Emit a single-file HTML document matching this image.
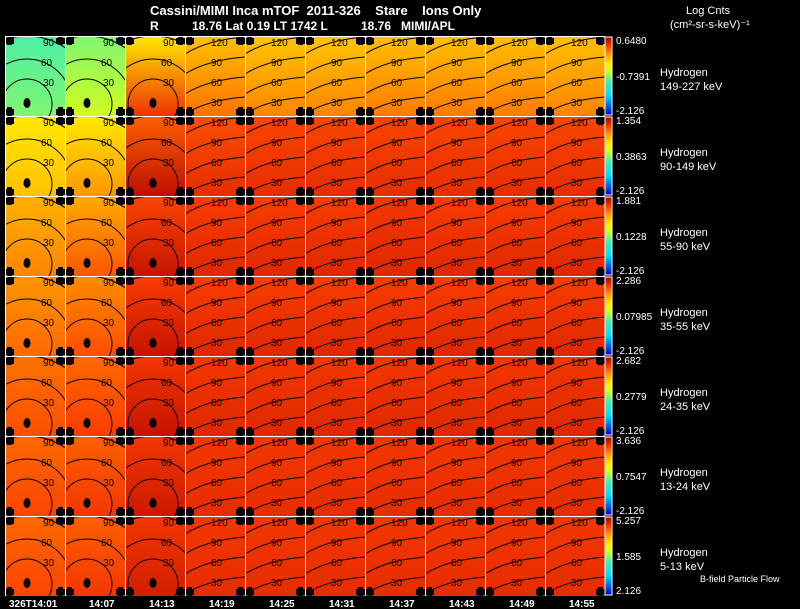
<!DOCTYPE html>
<html><head><meta charset="utf-8"><style>
html,body{margin:0;padding:0;background:#000;width:800px;height:609px;overflow:hidden}
svg{display:block}
text{font-family:"Liberation Sans",sans-serif;fill:#fff;white-space:pre}
.c{fill:#000;font-size:10px}
</style></head><body>
<svg id="chart" width="800" height="609" viewBox="0 0 800 609">
<text x="150" y="15" font-size="13" font-weight="bold">Cassini/MIMI Inca mTOF  2011-326    Stare    Ions Only</text>
<text x="150" y="30" font-size="12" font-weight="bold">R          18.76 Lat 0.19 LT 1742 L          18.76   MIMI/APL</text>
<text x="686" y="14" font-size="11">Log Cnts</text>
<text x="670" y="28" font-size="11">(cm²-sr-s-keV)⁻¹</text>
<text x="700" y="582" font-size="9">B-field Particle Flow</text>
<g id="panels"></g>
</svg>
<script>
const times=["326T14:01","14:07","14:13","14:19","14:25","14:31","14:37","14:43","14:49","14:55"];
const species=["149-227 keV","90-149 keV","55-90 keV","35-55 keV","24-35 keV","13-24 keV","5-13 keV"];
const cbMax=["0.6480","1.354","1.881","2.286","2.682","3.636","5.257"];
const cbMid=["-0.7391","0.3863","0.1228","0.07985","0.2779","0.7547","1.585"];
const cbMin=["-2.126","-2.126","-2.126","-2.126","-2.126","-2.126","2.126"];
const topVals=[
[.44,.49,.66,.72,.71,.71,.72,.72,.72,.72],
[.66,.66,.84,.86,.87,.87,.87,.87,.87,.87],
[.74,.75,.87,.88,.88,.88,.89,.88,.88,.88],
[.78,.79,.88,.88,.88,.88,.88,.88,.88,.88],
[.82,.83,.89,.89,.89,.89,.89,.89,.89,.89],
[.83,.84,.89,.89,.89,.89,.89,.89,.89,.89],
[.83,.84,.89,.89,.89,.89,.89,.89,.89,.89]];
const botVals=[
[.49,.57,.9,.82,.8,.8,.81,.81,.81,.8],
[.72,.78,.97,.91,.91,.91,.91,.91,.91,.91],
[.8,.85,.96,.92,.92,.92,.92,.92,.92,.92],
[.83,.86,.96,.92,.92,.92,.92,.92,.92,.92],
[.86,.88,.96,.92,.92,.92,.92,.92,.92,.92],
[.87,.89,.95,.91,.91,.91,.91,.91,.91,.91],
[.87,.89,.94,.91,.91,.91,.91,.91,.91,.91]];
const X0=5,PW=60,Y0=36,PH=80,NS="http://www.w3.org/2000/svg";
const xPos=c=>X0+c*PW, yPos=r=>Y0+r*PH;
const stops=[[0,[0,0,200]],[.25,[0,220,255]],[.45,[80,240,160]],[.55,[200,255,40]],[.65,[255,240,0]],[.78,[255,150,0]],[.88,[250,60,0]],[1,[170,0,0]]];
function cmap(v){for(let i=1;i<stops.length;i++){if(v<=stops[i][0]){const a=stops[i-1],b=stops[i],t=(v-a[0])/(b[0]-a[0]);return `rgb(${a[1].map((x,k)=>Math.round(x+(b[1][k]-x)*t)).join(',')})`;}}return 'rgb(170,0,0)';}
const g=document.getElementById('panels');
function el(t,a,p){const e=document.createElementNS(NS,t);for(const k in a)e.setAttribute(k,a[k]);(p||g).appendChild(e);return e;}
const defs=el('defs',{});
const cbg=el('linearGradient',{id:'cbgrad',x1:0,y1:1,x2:0,y2:0},defs);
stops.forEach(s=>el('stop',{offset:s[0],'stop-color':cmap(s[0])},cbg));
for(let r=0;r<7;r++){
 for(let c=0;c<10;c++){
  const x=xPos(c),y=yPos(r),id='g'+r+'_'+c;
  const lg=el('linearGradient',{id:id,x1:0,y1:0,x2:0,y2:1},defs);
  el('stop',{offset:0,'stop-color':cmap(topVals[r][c])},lg);
  el('stop',{offset:1,'stop-color':cmap(botVals[r][c])},lg);
  const cp=el('clipPath',{id:'cp'+id},defs);el('rect',{x:x,y:y,width:PW,height:PH},cp);
  const pg=el('g',{'clip-path':'url(#cp'+id+')'});
  
  
  el('rect',{x:x,y:y,width:PW,height:PH,fill:'url(#'+id+')'},pg);
  if(c<3){
   const cx=x+(c==2?28:22),cy=y+68;
   [25,45,68].forEach(R=>el('circle',{cx:cx,cy:cy,r:R,fill:'none',stroke:'#000','stroke-width':1},pg));
   el('ellipse',{cx:cx,cy:cy-1,rx:3.5,ry:5,fill:'#000'},pg);
   [['30',38,50],['60',36,30],['90',38,10]].forEach(l=>{const t=el('text',{x:x+l[1],y:y+l[2],class:'c'},pg);t.textContent=l[0];});
  }else{
   [[2,'120'],[22,'90'],[42,'60'],[62,'30']].forEach(l=>{
    el('path',{d:`M${x},${y+l[0]+16} Q${x+22},${y+l[0]+2} ${x+60},${y+l[0]-1}`,fill:'none',stroke:'#000'},pg);
    const t=el('text',{x:x+26,y:y+l[0]+8,class:'c'},pg);t.textContent=l[1];});
  }
  [[0,0],[PW-9,0],[0,PH-9],[PW-9,PH-9]].forEach(o=>{el('rect',{x:x+o[0],y:y+o[1]+2,width:9,height:6,fill:'#000'},pg);el('rect',{x:x+o[0]+2,y:y+o[1],width:5,height:9,fill:'#000'},pg);});
  el('rect',{x:x+.5,y:y+.5,width:PW,height:PH,fill:'none',stroke:'#fff','stroke-width':1},pg);
 }
 const y=yPos(r);
 const cb=el('rect',{x:605,y:y+1,width:7,height:PH-2,fill:'url(#cbgrad)',stroke:'#fff','stroke-width':1});
 
 
 const t1=el('text',{x:616,y:y+8,'font-size':10});t1.textContent=cbMax[r];
 
 const t2=el('text',{x:616,y:y+44,'font-size':10});t2.textContent=cbMid[r];
 
 const t3=el('text',{x:616,y:y+PH-2,'font-size':10});t3.textContent=cbMin[r];
 
 const h=el('text',{x:660,y:y+40,'font-size':11});h.textContent='Hydrogen';
 
 const e=el('text',{x:660,y:y+54,'font-size':11});e.textContent=species[r];
 
}
times.forEach((tm,c)=>{const t=el('text',{x:xPos(c)+(c==0?4:24),y:607,'font-size':10,'font-weight':'bold'});t.textContent=tm;
 });
</script>
</body></html>
